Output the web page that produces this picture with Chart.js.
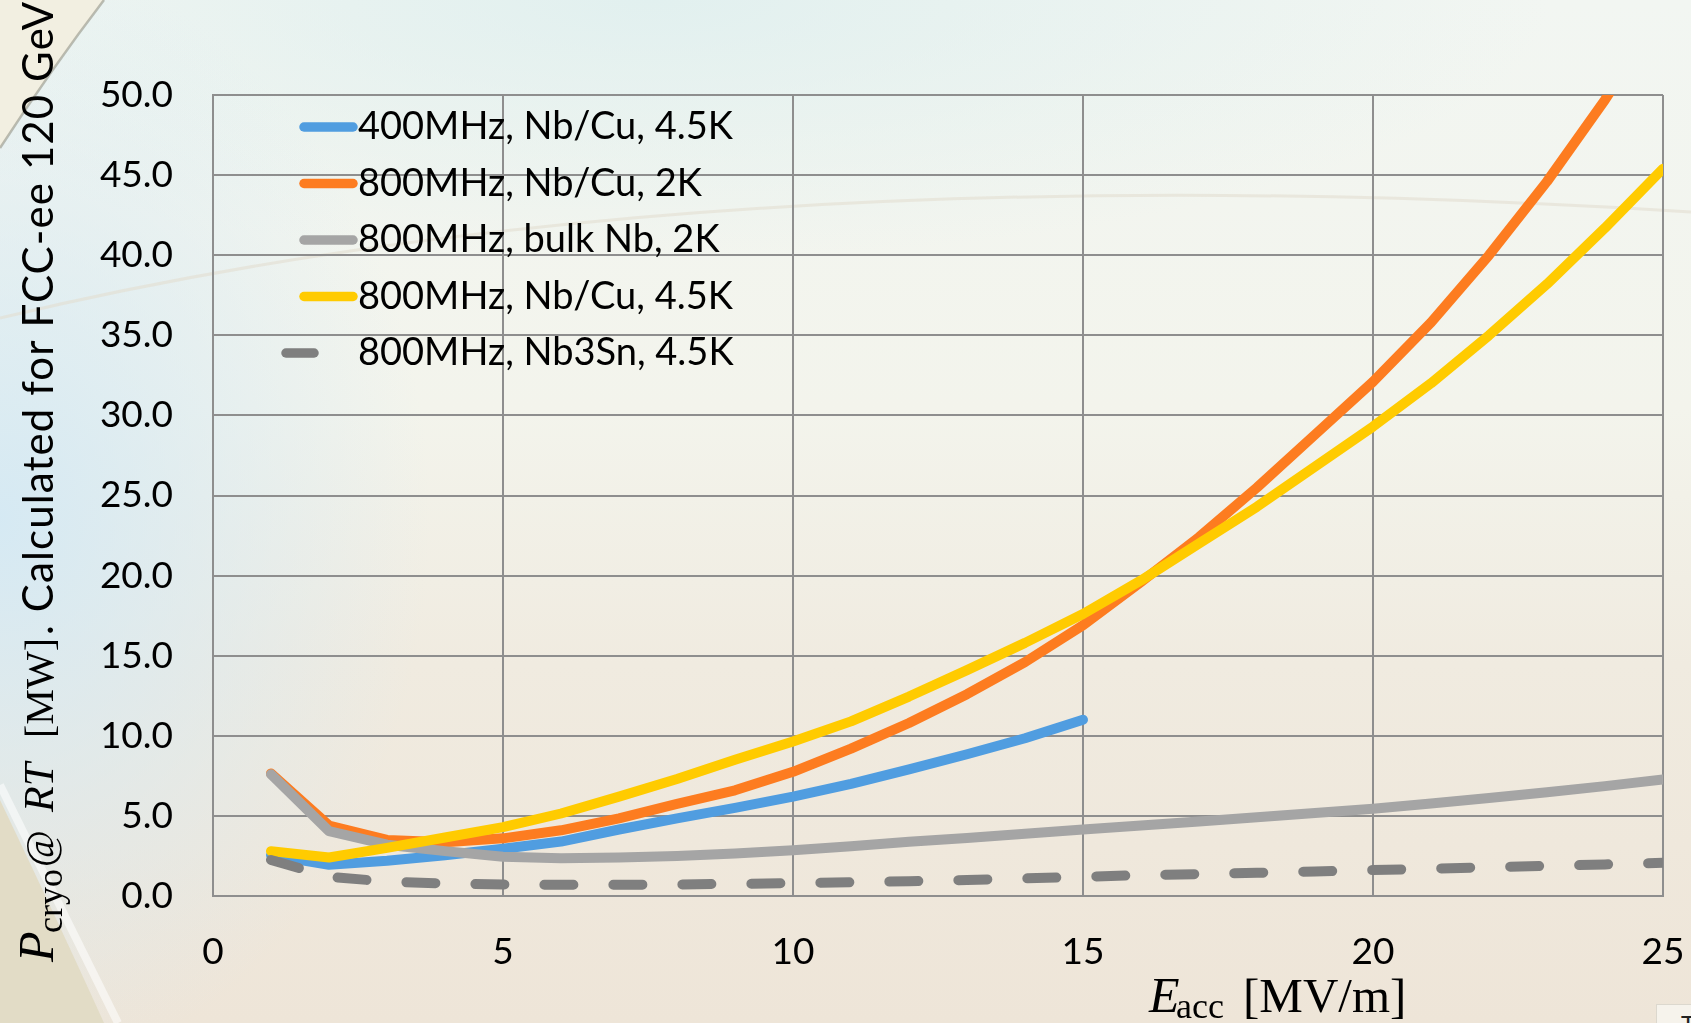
<!DOCTYPE html>
<html>
<head>
<meta charset="utf-8">
<title>Pcryo vs Eacc</title>
<script src="https://cdn.jsdelivr.net/npm/chart.js@4.4.1/dist/chart.umd.min.js"></script>
<style>
html, body { margin: 0; padding: 0; }
body {
  width: 1691px; height: 1023px; overflow: hidden; position: relative;
  background:
    radial-gradient(ellipse 430px 560px at 0px 520px, rgba(212,233,244,0.95), rgba(212,233,244,0) 100%),
    radial-gradient(ellipse 900px 260px at 650px 0px, rgba(220,238,238,0.75), rgba(220,238,238,0) 100%),
    linear-gradient(to bottom, #f2f6f2 0%, #f3f4ec 40%, #f0ebe0 65%, #eee5d8 100%);
}
#deco { position: absolute; left: 0; top: 0; }
#wrap { position: absolute; left: 0; top: 0; width: 1691px; height: 1023px; }
#corner {
  position: absolute; left: 1656px; top: 1004px; width: 40px; height: 30px;
  background: #f6f3ec; border-left: 1px solid #dcd8ce; border-top: 1px solid #dcd8ce;
  font: 24px Lato, sans-serif; color: #222; padding-left: 24px; padding-top: 4px; box-sizing: border-box;
}
</style>
</head>
<body>
<svg id="deco" width="1691" height="1023">
  <path d="M0,0 L104,0 Q52,68 0,148 Z" fill="#f2efe1"/>
  <path d="M104,0 Q52,68 0,148" fill="none" stroke="rgba(140,140,128,0.55)" stroke-width="2.5"/>
  <path d="M0,318 Q700,150 1691,212" fill="none" stroke="rgba(226,222,208,0.6)" stroke-width="3"/>
  <path d="M0,800 Q62,930 104,1023 L0,1023 Z" fill="#e2dcc6"/>
  <path d="M0,785 Q70,925 118,1023" fill="none" stroke="rgba(255,255,255,0.55)" stroke-width="8"/>
</svg>
<div id="wrap"><canvas id="chart" width="1691" height="1023"></canvas></div>
<div id="corner">T</div>
<script>
// E_acc [MV/m]
var xVals = [1, 2, 3, 4, 5, 6, 7, 8, 9, 10, 11, 12, 13, 14, 15, 16, 17, 18, 19, 20, 21, 22, 23, 24, 25];

// P_cryo @ RT [MW]
var p400NbCu45 = [2.55, 1.95, 2.2, 2.55, 2.95, 3.4, 4.15, 4.85, 5.5, 6.2, 7.0, 7.9, 8.85, 9.85, 11.0];
var p800NbCu2 = [7.65, 4.4, 3.5, 3.35, 3.6, 4.1, 4.85, 5.75, 6.6, 7.75, 9.2, 10.8, 12.6, 14.6, 16.9,
                 19.6, 22.4, 25.5, 28.8, 32.1, 35.8, 40.0, 44.6, 49.7, 55.3];
var p800Bulk2 = [7.6, 4.05, 3.2, 2.8, 2.45, 2.35, 2.4, 2.5, 2.65, 2.85, 3.1, 3.38, 3.62, 3.88, 4.15,
                 4.4, 4.65, 4.92, 5.18, 5.45, 5.78, 6.12, 6.48, 6.86, 7.28];
var p800NbCu45b = [2.8, 2.4, 3.0, 3.65, 4.3, 5.15, 6.2, 7.3, 8.5, 9.65, 10.9, 12.45, 14.1, 15.8, 17.6,
                   19.7, 22.0, 24.3, 26.8, 29.3, 32.0, 35.0, 38.2, 41.7, 45.4];
var p800Nb3Sn45 = [2.25, 1.2, 0.9, 0.78, 0.72, 0.7, 0.7, 0.72, 0.76, 0.8, 0.86, 0.92, 1.0, 1.1, 1.2,
                   1.3, 1.37, 1.45, 1.53, 1.62, 1.7, 1.8, 1.88, 1.97, 2.07];

var seriesLabels = ['400MHz, Nb/Cu, 4.5K', '800MHz, Nb/Cu, 2K', '800MHz, bulk Nb, 2K',
                    '800MHz, Nb/Cu, 4.5K', '800MHz, Nb3Sn, 4.5K'];
var seriesColors = ['#509de0', '#fd7c20', '#a5a5a5', '#ffcb00', '#7f7f7f'];

function pts(ys) {
  return ys.map(function (y, i) { return { x: xVals[i], y: y }; });
}

var allSeries = [p400NbCu45, p800NbCu2, p800Bulk2, p800NbCu45b, p800Nb3Sn45];
var datasets = allSeries.map(function (ys, i) {
  return {
    label: seriesLabels[i],
    data: pts(ys),
    borderColor: seriesColors[i],
    backgroundColor: seriesColors[i],
    borderWidth: 10,
    borderCapStyle: 'round',
    borderJoinStyle: 'round',
    borderDash: i === 4 ? [29, 40] : [],
    pointRadius: 0,
    tension: 0,
    fill: false,
    clip: 0,
    order: 5 - i   // later series drawn on top, like the original
  };
});

var gridGray = '#8e8e8e';
var sans = 'Lato, sans-serif';
var serif = '"Liberation Serif", serif';

// each part: text, font, offset along the baseline (at), baseline shift (dy)
function drawParts(ctx, parts) {
  parts.forEach(function (p) {
    ctx.font = p.font;
    ctx.letterSpacing = p.ls || '0px';
    ctx.fillText(p.text, p.at, p.dy || 0);
  });
  ctx.letterSpacing = '0px';
}

var overlay = {
  id: 'overlay',
  afterDatasetsDraw: function (chart) {
    var ctx = chart.ctx;
    ctx.save();
    ctx.fillStyle = '#000';
    ctx.textAlign = 'left';

    // legend inside the plot
    chart.data.datasets.forEach(function (ds, i) {
      var y = 127 + 56.5 * i;
      ctx.beginPath();
      ctx.setLineDash([]);
      ctx.strokeStyle = ds.borderColor;
      ctx.lineWidth = 9.5;
      ctx.lineCap = 'round';
      if (ds.borderDash.length) { ctx.moveTo(286, y); ctx.lineTo(314, y); }
      else { ctx.moveTo(304, y); ctx.lineTo(353, y); }
      ctx.stroke();
      ctx.font = '38px ' + sans;
      ctx.textBaseline = 'middle';
      ctx.fillText(ds.label, 358, y);
    });

    ctx.textBaseline = 'alphabetic';
    // x axis title
    ctx.save();
    ctx.translate(1149, 1012);
    drawParts(ctx, [
      { text: 'E', font: 'italic 50px ' + serif, at: 0 },
      { text: 'acc', font: '36px ' + serif, at: 27, dy: 6 },
      { text: '[MV/m]', font: '49px ' + serif, at: 94 }
    ]);
    ctx.restore();

    // y axis title
    ctx.translate(53, 962);
    ctx.rotate(-Math.PI / 2);
    drawParts(ctx, [
      { text: 'P', font: 'italic 50px ' + serif, at: 0 },
      { text: 'cryo', font: '36px ' + serif, at: 29, dy: 9 },
      { text: '@', font: '40px ' + serif, at: 95 },
      { text: 'RT', font: 'italic 42px ' + serif, at: 150 },
      { text: '[MW]', font: '40px ' + serif, at: 224 },
      { text: '. Calculated for FCC-ee 120 GeV', font: '42px ' + sans, at: 327, ls: '1.1px' }
    ]);
    ctx.restore();
  }
};

new Chart(document.getElementById('chart').getContext('2d'), {
  type: 'line',
  data: { datasets: datasets },
  options: {
    responsive: false,
    animation: false,
    devicePixelRatio: 1,
    layout: { padding: { left: 0, right: 28, top: 95, bottom: 0 } },
    plugins: { legend: { display: false }, tooltip: { enabled: false } },
    scales: {
      x: {
        type: 'linear', min: 0, max: 25,
        ticks: { stepSize: 5, padding: 34, color: '#000', font: { family: sans, size: 37 } },
        grid: { color: gridGray, lineWidth: 2, drawTicks: false },
        border: { color: gridGray, width: 2 },
        afterFit: function (s) { s.height = 127; s.paddingLeft = 0; s.paddingRight = 0; }
      },
      y: {
        type: 'linear', min: 0, max: 50,
        ticks: {
          stepSize: 5, padding: 40, color: '#000', font: { family: sans, size: 37 },
          callback: function (v) { return v.toFixed(1); }
        },
        grid: { color: gridGray, lineWidth: 2, drawTicks: false },
        border: { color: gridGray, width: 2 },
        afterFit: function (s) { s.width = 213; s.paddingTop = 0; s.paddingBottom = 0; }
      }
    }
  },
  plugins: [overlay]
});
</script>
</body>
</html>
